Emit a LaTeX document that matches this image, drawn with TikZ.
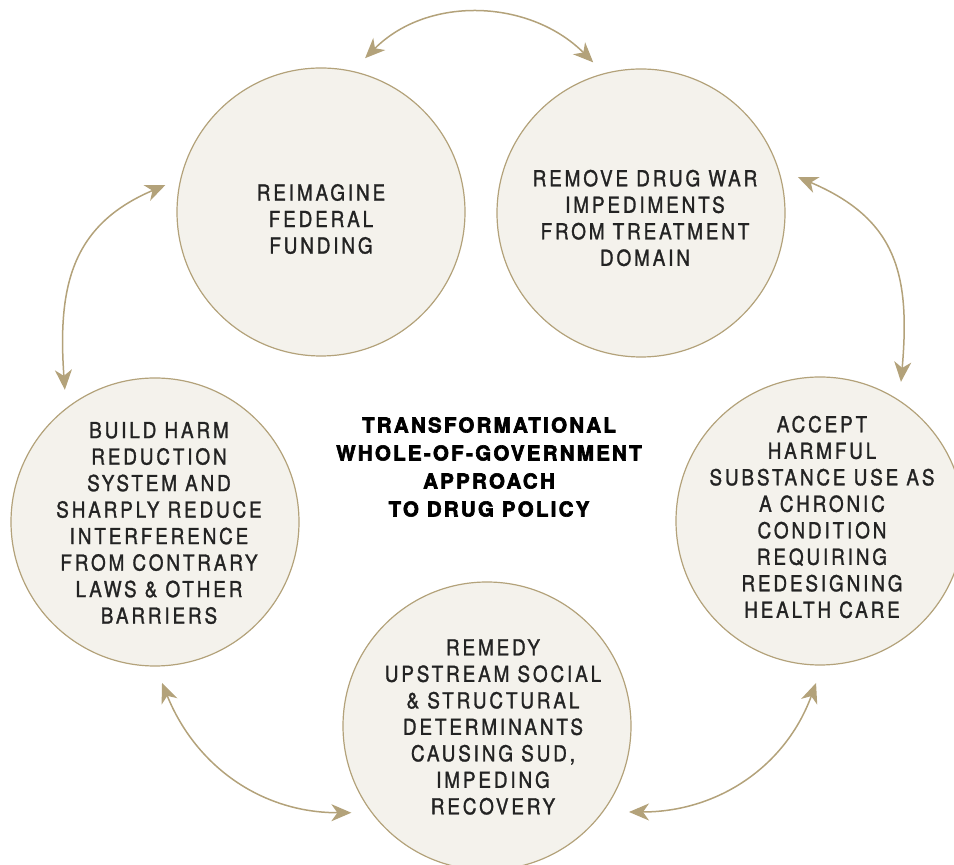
\documentclass[tikz,border=0pt]{standalone}
\usepackage{fontspec}
\usetikzlibrary{arrows.meta,calc}
\newfontfamily\circfont{texgyreheros-regular.otf}[FakeStretch=0.86,LetterSpace=13,FakeBold=1.3]
\newfontfamily\titlefont{texgyreheros-bold.otf}[LetterSpace=11,FakeBold=3]
\definecolor{arrowtan}{HTML}{B3A27A}
\definecolor{paper}{HTML}{F4F2EC}
\definecolor{ink}{HTML}{232323}
\begin{document}
\begin{tikzpicture}[x=1pt,y=1pt,
  circ/.style={circle, draw=arrowtan, line width=1.2pt, fill=paper, minimum size=288pt, inner sep=0pt},
  txt/.style={align=center, inner sep=0pt, text=ink, font=\circfont\fontsize{22}{26.5}\selectfont},
  link/.style={draw=arrowtan, line width=1.5pt,
    {Stealth[length=20pt,width=17pt,inset=6pt]}-{Stealth[length=20pt,width=17pt,inset=6pt]}},
  title/.style={align=center, text=black, font=\titlefont\fontsize{20.5}{28}\selectfont}]
\useasboundingbox (0,0) rectangle (954,865);
\clip (0,0) rectangle (954,865);
\node[circ] (c1) at (321,653) {};
\node[circ] (c2) at (641,652) {};
\node[circ] (c3) at (155,343) {};
\node[circ] (c4) at (820,344) {};
\node[circ] (c5) at (487,139) {};
\node[txt] (c1t) at ($(c1.center)+(0,-7)$) {REIMAGINE\\FEDERAL\\FUNDING};
\node[txt] (c2t) at ($(c2.center)+(4,-5)$) {REMOVE DRUG WAR\\IMPEDIMENTS\\FROM TREATMENT\\DOMAIN};
\node[txt] (c3t) at ($(c3.center)+(4,-1)$) {BUILD HARM\\REDUCTION\\SYSTEM AND\\SHARPLY REDUCE\\INTERFERENCE\\FROM CONTRARY\\LAWS \& OTHER\\BARRIERS};
\node[txt] (c4t) at ($(c4.center)+(2,4)$) {ACCEPT\\HARMFUL\\SUBSTANCE USE AS\\A CHRONIC\\CONDITION\\REQUIRING\\REDESIGNING\\HEALTH CARE};
\node[txt] (c5t) at ($(c5.center)+(6,-1)$) {REMEDY\\UPSTREAM SOCIAL\\\& STRUCTURAL\\DETERMINANTS\\CAUSING SUD,\\IMPEDING\\RECOVERY};
\node[title] (t) at (489,398) {TRANSFORMATIONAL\\WHOLE-OF-GOVERNMENT\\APPROACH\\TO DRUG POLICY};
\coordinate (t1) at ($(c1.center)+(74:160)$);
\coordinate (t2) at ($(c2.center)+(107.6:158)$);
\coordinate (r1) at ($(c2.center)+(12.9:161)$);
\coordinate (r2) at ($(c4.center)+(59.8:161)$);
\coordinate (l1) at ($(c1.center)+(170.2:158)$);
\coordinate (l2) at ($(c3.center)+(124.3:160)$);
\coordinate (bl1) at ($(c3.center)+(-87.5:161)$);
\coordinate (bl2) at ($(c5.center)+(212.6:161)$);
\coordinate (br1) at ($(c5.center)+(-31.2:166)$);
\coordinate (br2) at ($(c4.center)+(268.6:162)$);
\draw[link] (t1) to[out=45,in=135] (t2);
\draw[link] (r1) to[out=-23,in=85,looseness=1.2] (r2);
\draw[link] (l1) to[out=203,in=94,looseness=1.15] (l2);
\draw[link] (bl1) to[out=-68,in=180] (bl2);
\draw[link] (br1) to[out=0,in=250] (br2);
\end{tikzpicture}
\end{document}
